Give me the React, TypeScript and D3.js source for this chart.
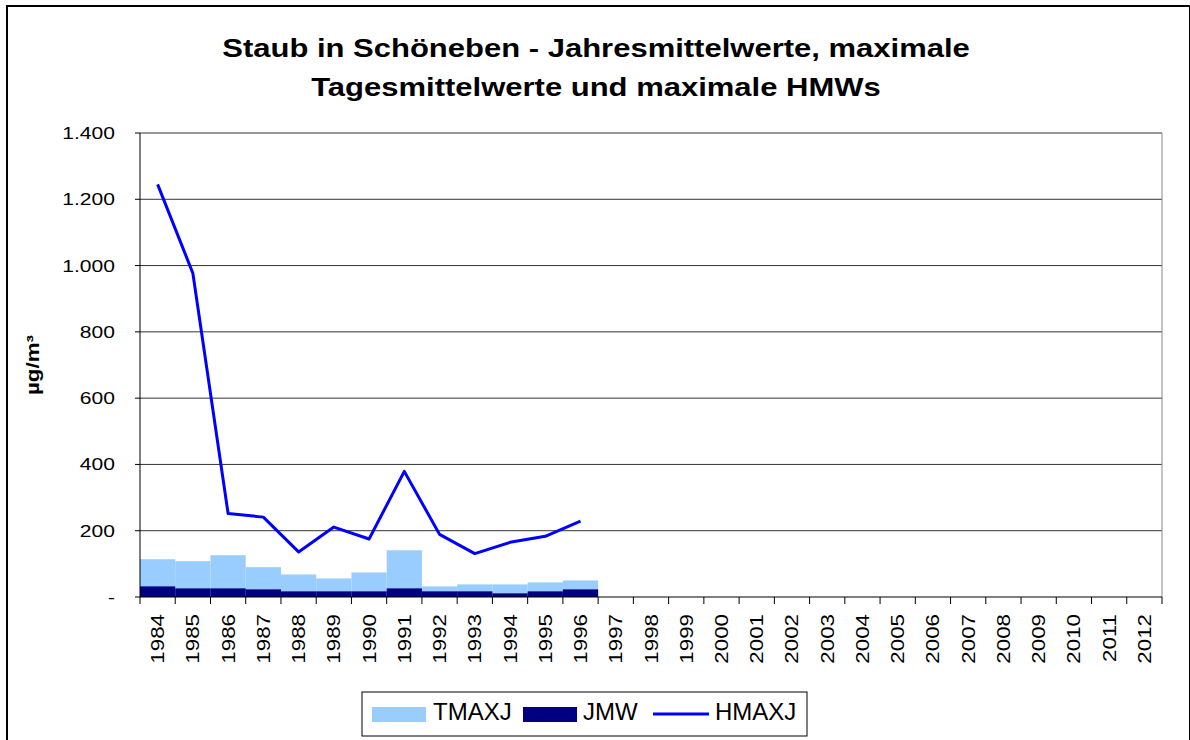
import React from "react";
import * as d3 from "d3";

const years: string[] = [
  "1984","1985","1986","1987","1988","1989","1990","1991","1992","1993","1994","1995","1996","1997","1998","1999","2000","2001","2002","2003","2004","2005","2006","2007","2008","2009","2010","2011","2012",
];
const tmaxj: (number | null)[] = [114, 108, 126, 90, 68, 56, 74, 141, 32, 38, 38, 44, 50];
const jmw: (number | null)[] = [32, 26, 26, 23, 17, 17, 17, 26, 17, 17, 11, 17, 23];
const hmaxj: (number | null)[] = [1245, 977, 252, 241, 136, 211, 175, 379, 189, 131, 165, 183, 229];
const yTicks: number[] = [0, 200, 400, 600, 800, 1000, 1200, 1400];
const yTickLabels: string[] = ["-", "200", "400", "600", "800", "1.000", "1.200", "1.400"];

const W = 1190, H = 740;
const left = 140, right = 1162, top = 133, bottom = 597;
const font = "Liberation Sans, Arial, sans-serif";
const SX = 1.24;

export default function App() {
  const x = d3.scaleBand<string>().domain(years).range([left, right]).padding(0);
  const y = d3.scaleLinear().domain([0, 1400]).range([bottom, top]);
  const bw = x.bandwidth();
  const linePts = hmaxj
    .map((v, i) => (v == null ? null : ([x(years[i])! + bw / 2, y(v)] as [number, number])))
    .filter((p): p is [number, number] => p != null);
  const line = d3.line<[number, number]>()(linePts) || "";

  return (
    <svg width={W} height={H} style={{ position: "absolute", left: 0, top: 0, background: "#fff" }} fontFamily={font}>
      <rect x={7} y={6} width={1183} height={740} fill="#fff" stroke="#000" strokeWidth={2} />
      <text transform={`translate(596,57) scale(${SX},1)`} textAnchor="middle" fontSize={25} fontWeight="bold">Staub in Schöneben - Jahresmittelwerte, maximale</text>
      <text transform={`translate(596,96) scale(${SX},1)`} textAnchor="middle" fontSize={25} fontWeight="bold">Tagesmittelwerte und maximale HMWs</text>

      {/* grid */}
      {yTicks.map((t) =>
        t === 0 ? null : (
          <line key={t} x1={left} x2={right} y1={y(t)} y2={y(t)} stroke="#333" strokeWidth={1} />
        )
      )}
      <line x1={right} x2={right} y1={top} y2={bottom} stroke="#888" strokeWidth={1} />

      {/* bars */}
      {tmaxj.map((v, i) =>
        v == null ? null : (
          <rect key={"t" + i} x={x(years[i])!} y={y(v)} width={bw} height={bottom - y(v)} fill="#99CCFF" />
        )
      )}
      {jmw.map((v, i) =>
        v == null ? null : (
          <rect key={"j" + i} x={x(years[i])!} y={y(v)} width={bw} height={bottom - y(v)} fill="#000080" />
        )
      )}
      <path d={line} fill="none" stroke="#0000FF" strokeWidth={3} strokeLinejoin="round" />

      {/* axes */}
      <line x1={left} x2={left} y1={top} y2={bottom} stroke="#000" strokeWidth={1} />
      <line x1={left} x2={right} y1={bottom} y2={bottom} stroke="#000" strokeWidth={1} />
      {yTicks.map((t, i) => (
        <g key={"yt" + t}>
          <line x1={left - 5} x2={left} y1={y(t)} y2={y(t)} stroke="#000" />
          <text transform={`translate(115,${y(t) + 6}) scale(${SX},1)`} textAnchor="end" fontSize={17}>{yTickLabels[i]}</text>
        </g>
      ))}
      {years.map((yr) => (
        <line key={"xt" + yr} x1={x(yr)! + bw} x2={x(yr)! + bw} y1={bottom} y2={bottom + 7} stroke="#000" />
      ))}
      <line x1={left} x2={left} y1={bottom} y2={bottom + 7} stroke="#000" />
      {years.map((yr) => (
        <text
          key={"xl" + yr}
          transform={`translate(${x(yr)! + bw / 2 + 6.5},${bottom + 17}) rotate(-90) scale(${SX},1)`}
          textAnchor="end"
          fontSize={18}
        >
          {yr}
        </text>
      ))}
      <text transform={`translate(39,365) rotate(-90) scale(${SX},1)`} textAnchor="middle" fontSize={18} fontWeight="bold">µg/m³</text>

      {/* legend */}
      <rect x={362} y={692} width={445} height={44} fill="#fff" stroke="#000" strokeWidth={1} />
      <rect x={372} y={707} width={54} height={15} fill="#99CCFF" />
      <text x={433} y={720} fontSize={24}>TMAXJ</text>
      <rect x={523} y={707} width={54} height={15} fill="#000080" />
      <text x={583} y={720} fontSize={24}>JMW</text>
      <line x1={653} x2={709} y1={714} y2={714} stroke="#0000FF" strokeWidth={3} />
      <text x={715} y={720} fontSize={24}>HMAXJ</text>
    </svg>
  );
}
